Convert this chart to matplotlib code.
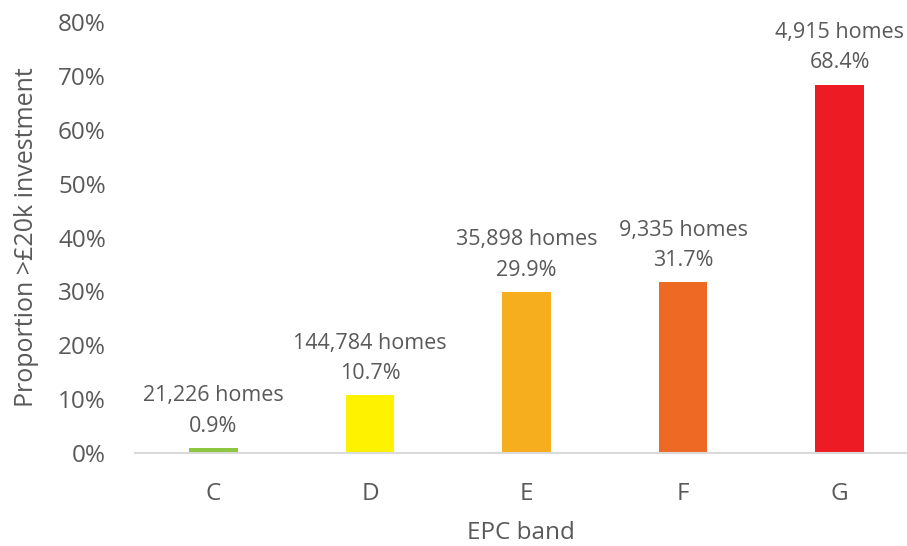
import numpy as np
import matplotlib.pyplot as plt
from matplotlib.ticker import PercentFormatter

plt.rcParams['font.family'] = ['Open Sans', 'DejaVu Sans']

# data
bands = ["C", "D", "E", "F", "G"]
proportion = [0.9, 10.7, 29.9, 31.7, 68.4]
homes = [21226, 144784, 35898, 9335, 4915]
colors = ["#8dc63f", "#fff200", "#f7ae1e", "#ee6a24", "#ed1c24"]

text_grey = "#595959"

fig = plt.figure(figsize=(9.07, 5.46), dpi=100)
ax = fig.add_axes([0.149, 0.1703, 0.851, 0.7894])

xticks = np.arange(len(bands))
bars = ax.bar(xticks, proportion, width=0.31, color=colors, zorder=2)

# labels above each bar: number of homes and the percentage
for x, p, n in zip(xticks, proportion, homes):
    ax.annotate(f"{n:,} homes\n{p}%", xy=(x, p), xytext=(0, 8),
                textcoords="offset points", ha="center", va="bottom",
                fontsize=15.5, color=text_grey, linespacing=1.6)

ax.set_ylim(0, 80)
ax.set_xlim(-0.5, 4.43)
ax.set_yticks(np.arange(0, 81, 10))
ax.yaxis.set_major_formatter(PercentFormatter(decimals=0))
ax.set_xticks(xticks)
ax.set_xticklabels(bands)

ax.tick_params(axis="y", length=0, pad=21, labelsize=17.5, labelcolor=text_grey)
ax.tick_params(axis="x", length=0, pad=21, labelsize=17.5, labelcolor=text_grey)

for side in ["top", "right", "left"]:
    ax.spines[side].set_visible(False)
ax.spines["bottom"].set_color("#d9d9d9")
ax.spines["bottom"].set_linewidth(1.5)

ax.set_xlabel("EPC band", fontsize=17.5, color=text_grey, labelpad=11)
ax.set_ylabel("Proportion >£20k investment", fontsize=18, color=text_grey, labelpad=14)

fig.savefig("out.png", dpi=100)
